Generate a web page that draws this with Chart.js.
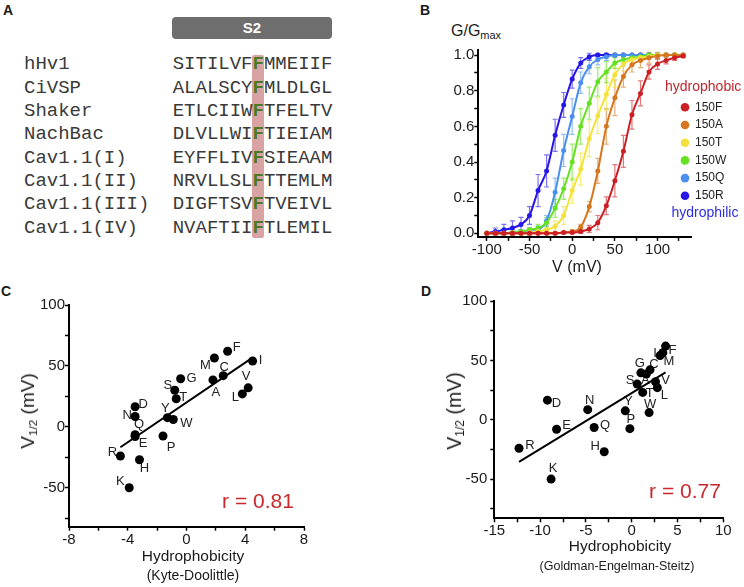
<!DOCTYPE html>
<html>
<head>
<meta charset="utf-8">
<script src="https://cdn.jsdelivr.net/npm/chart.js@4.4.1/dist/chart.umd.min.js"></script>
<style>
  body { margin: 0; width: 744px; height: 587px; position: relative; background: #fff; overflow: hidden;
         font-family: Arial, "Liberation Sans", sans-serif; color: #1a1a1a; }
  canvas { position: absolute; }
  .t { position: absolute; white-space: nowrap; }
  .mid { transform: translate(-50%, -50%); }
  .panel { font-weight: bold; font-size: 14px; }
  .seq { font-family: "Liberation Mono", "Courier New", monospace; font-size: 19px; line-height: 23.33px; color: #3a3a3a; }
  .hl { color: #4b7a20; font-weight: bold; }
  sub { font-size: 0.62em; vertical-align: -0.25em; }
</style>
</head>
<body>

<!-- panel A -->
<div class="t panel" style="left:3px;top:2px;">A</div>
<div class="t" style="left:172px;top:17px;width:160px;height:22px;background:#6e6e6e;border-radius:4px;color:#fff;font-weight:bold;font-size:15px;line-height:22px;text-align:center;">S2</div>
<div class="t" style="left:252px;top:55px;width:12px;height:183px;background:#d9a3a3;border-radius:2px;"></div>
<div id="alignment"></div>

<!-- panel B -->
<div class="t panel" style="left:420px;top:2px;">B</div>
<div class="t" style="left:451px;top:22px;font-size:16px;">G/G<sub style="font-size:11px;">max</sub></div>
<canvas id="chartB" width="324" height="280" style="left:420px;top:0;"></canvas>

<!-- panel C -->
<div class="t panel" style="left:1px;top:283px;">C</div>
<canvas id="chartC" width="370" height="307" style="left:0;top:280px;"></canvas>
<div class="t mid" style="left:28px;top:411px;font-size:19px;transform:translate(-50%,-50%) rotate(-90deg);">V<sub>1/2</sub> (mV)</div>
<div class="t mid" style="left:193px;top:556px;font-size:15.5px;">Hydrophobicity</div>
<div class="t mid" style="left:193px;top:575px;font-size:14px;">(Kyte-Doolittle)</div>
<div class="t mid" style="left:258px;top:501px;font-size:21px;color:#c8282e;">r = 0.81</div>

<!-- panel D -->
<div class="t panel" style="left:421px;top:283px;">D</div>
<canvas id="chartD" width="374" height="307" style="left:370px;top:280px;"></canvas>
<div class="t mid" style="left:455px;top:411px;font-size:19.5px;transform:translate(-50%,-50%) rotate(-90deg);">V<sub>1/2</sub> (mV)</div>
<div class="t mid" style="left:620px;top:546px;font-size:15.5px;">Hydrophobicity</div>
<div class="t mid" style="left:617px;top:566px;font-size:12.5px;">(Goldman-Engelman-Steitz)</div>
<div class="t mid" style="left:685px;top:491px;font-size:21px;color:#c8282e;">r = 0.77</div>

<script>
// ---- panel A: alignment ----
const seqNames = ['hHv1', 'CiVSP', 'Shaker', 'NachBac', 'Cav1.1(I)', 'Cav1.1(II)', 'Cav1.1(III)', 'Cav1.1(IV)'];
const seqs = ['SITILVFFMMEIIF', 'ALALSCYFMLDLGL', 'ETLCIIWFTFELTV', 'DLVLLWIFTIEIAM',
              'EYFFLIVFSIEAAM', 'NRVLLSLFTTEMLM', 'DIGFTSVFTVEIVL', 'NVAFTIIFTLEMIL'];
const hlPos = 7;

// ---- panel B: G/Gmax vs V ----
const voltages = [-100, -90, -80, -70, -60, -50, -40, -30, -20, -10, 0, 10, 20, 30, 40, 50, 60, 70, 80, 90, 100, 110, 120, 130];
const g150F = [0, 0, 0, 0, 0, 0, 0, 0, 0, 0.005, 0.005, 0.01, 0.025, 0.06, 0.155, 0.295, 0.46, 0.665, 0.785, 0.905, 0.95, 0.97, 0.985, 0.995];
const e150F = [0, 0, 0, 0, 0, 0, 0, 0, 0, 0, 0.005, 0.01, 0.02, 0.04, 0.05, 0.09, 0.09, 0.08, 0.07, 0.04, 0.03, 0.02, 0.015, 0.01];
const g150A = [0, 0, 0, 0, 0, 0, 0, 0, 0, 0.005, 0.01, 0.035, 0.15, 0.35, 0.6, 0.76, 0.88, 0.945, 0.97, 0.985, 0.995, 1, 1, 1];
const e150A = [0, 0, 0, 0, 0, 0, 0, 0, 0, 0.005, 0.01, 0.015, 0.03, 0.07, 0.1, 0.1, 0.06, 0.04, 0.04, 0.03, 0.02, 0.01, 0.01, 0.005];
const g150T = [0, 0, 0, 0, 0, 0.005, 0.01, 0.02, 0.04, 0.1, 0.24, 0.36, 0.53, 0.66, 0.78, 0.89, 0.95, 0.975, 0.985, 0.99, 1, 1, 1, 1];
const e150T = [0, 0, 0, 0, 0, 0.005, 0.01, 0.02, 0.03, 0.05, 0.07, 0.09, 0.1, 0.1, 0.09, 0.07, 0.04, 0.03, 0.02, 0.01, 0.01, 0, 0, 0];
const g150W = [0, 0, 0, 0.005, 0.01, 0.02, 0.03, 0.06, 0.14, 0.25, 0.4, 0.6, 0.73, 0.85, 0.905, 0.955, 0.975, 0.985, 0.99, 1, 1, 1, 1, 1];
const e150W = [0, 0, 0, 0.005, 0.01, 0.01, 0.02, 0.03, 0.05, 0.06, 0.1, 0.1, 0.09, 0.08, 0.06, 0.03, 0.02, 0.01, 0.01, 0.01, 0, 0, 0, 0];
const g150Q = [0, 0, 0, 0.005, 0.01, 0.01, 0.02, 0.07, 0.23, 0.465, 0.655, 0.845, 0.935, 0.975, 0.99, 1, 1, 1, 1, 1, 1, 1, 1, 1];
const e150Q = [0, 0, 0, 0.005, 0.01, 0.02, 0.02, 0.03, 0.08, 0.09, 0.1, 0.06, 0.04, 0.03, 0.02, 0.01, 0, 0, 0, 0, 0, 0, 0, 0];
const g150R = [0, 0.01, 0.02, 0.03, 0.05, 0.1, 0.24, 0.35, 0.55, 0.72, 0.865, 0.955, 0.99, 1, 1, 1, 1, 1, 1, 1, 1, 1, 1, 1];
const e150R = [0, 0.02, 0.03, 0.04, 0.04, 0.05, 0.09, 0.09, 0.09, 0.07, 0.05, 0.03, 0.02, 0.01, 0.01, 0, 0, 0, 0, 0, 0, 0, 0, 0];
const mutantLabels = ['150F', '150A', '150T', '150W', '150Q', '150R'];
const xMajorB = [-100, -50, 0, 50, 100];
const xMinorB = [-75, -25, 25, 75, 125];
const yMajorB = [0, 0.2, 0.4, 0.6, 0.8, 1.0];
const yMinorB = [0.1, 0.3, 0.5, 0.7, 0.9];

// ---- panels C, D: V1/2 vs hydrophobicity ----
const residues = ['I', 'V', 'L', 'F', 'C', 'M', 'A', 'G', 'T', 'S', 'W', 'Y', 'P', 'H', 'E', 'Q', 'D', 'N', 'K', 'R'];
const vHalf = [54, 32, 27, 62, 42, 56.5, 38.5, 39.5, 23, 30, 6, 7.5, -7.5, -27, -8, -6.5, 16.5, 8.5, -50, -24];
const kyteDoolittle = [4.5, 4.2, 3.8, 2.8, 2.5, 1.9, 1.8, -0.4, -0.7, -0.8, -0.9, -1.3, -1.6, -3.2, -3.5, -3.5, -3.5, -3.5, -3.9, -4.5];
const ges = [3.1, 2.6, 2.8, 3.7, 2.0, 3.4, 1.6, 1.0, 1.2, 0.6, 1.9, -0.7, -0.2, -3.0, -8.2, -4.1, -9.2, -4.8, -8.8, -12.3];
const yMajorCD = [100, 50, 0, -50];
const yMinorCD = [75, 25, -25, -75];
const xMajorC = [-8, -4, 0, 4, 8];
const xMinorC = [-6, -2, 2, 6];
const xMajorD = [-15, -10, -5, 0, 5, 10];
const xMinorD = [-12.5, -7.5, -2.5, 2.5, 7.5];

// label placement (pixels from the dot)
const labelOffC = { I: [8, -1], V: [-2, -11], L: [-7, 3], F: [9, -4], C: [1, -8], M: [-9, 7], A: [3, 13], G: [11, 0],
  T: [7, -1], S: [-7, -5], W: [13, 4], Y: [-2, -9], P: [8, 11], H: [5, 9], E: [8, 7], Q: [4, -10], D: [8, -2],
  N: [-8, -1], K: [-9, -6], R: [-8, -4] };
const labelOffD = { I: [-5, -2], V: [10, -1], L: [7, 8], F: [7, 4], C: [4, -5], M: [6, 9], A: [-1, 6], G: [-1, -9],
  T: [7, 1], S: [-7, -4], W: [1, -8], Y: [3, -9], P: [1, -9], H: [-9, -5], E: [10, -4], Q: [11, -2], D: [9, 3],
  N: [2, -9], K: [2, -11], R: [11, -3] };

// ---------- build panel A ----------
const aln = document.getElementById('alignment');
seqNames.forEach((n, i) => {
  const top = 53.3 + i * 23.33;
  const nd = document.createElement('div');
  nd.className = 't seq';
  nd.style.left = '24px'; nd.style.top = top + 'px';
  nd.textContent = n;
  aln.appendChild(nd);
  const sd = document.createElement('div');
  sd.className = 't seq';
  sd.style.left = '172.7px'; sd.style.top = top + 'px';
  const s = seqs[i];
  sd.innerHTML = s.slice(0, hlPos) + '<span class="hl">' + s[hlPos] + '</span>' + s.slice(hlPos + 1);
  aln.appendChild(sd);
});

// ---------- helpers ----------
const tickFont = { family: 'Arial, "Liberation Sans", sans-serif', size: 15 };
const setTicks = (major, minor) => (ax) => {
  ax.ticks = major.concat(minor).sort((a, b) => a - b).map(v => ({ value: v }));
};
const axisStyle = (major, minor, fmt) => ({
  afterBuildTicks: setTicks(major, minor),
  border: { display: true, color: '#000', width: 2 },
  grid: { drawOnChartArea: false, color: '#000', tickLength: 4, tickWidth: 1.5 },
  ticks: { autoSkip: false, maxRotation: 0, padding: 0, color: '#1a1a1a', font: tickFont,
           callback: (v) => major.includes(v) ? fmt(v) : '' }
});

// ---------- panel B ----------
const gSeries = [g150F, g150A, g150T, g150W, g150Q, g150R];
const eSeries = [e150F, e150A, e150T, e150W, e150Q, e150R];
const lineColors = ['#cc1f24', '#d6761f', '#f4e23c', '#66e022', '#4a8ff0', '#2616e8'];
const errColors = ['rgba(204,31,36,0.6)', 'rgba(214,118,31,0.6)', 'rgba(244,226,60,0.7)',
                   'rgba(102,224,34,0.65)', 'rgba(74,143,240,0.6)', 'rgba(38,22,232,0.6)'];

const errorBars = {
  id: 'errorBars',
  beforeDatasetsDraw(chart) {
    const { ctx, scales: { x, y } } = chart;
    chart.data.datasets.forEach((ds) => {
      if (!ds.errors) return;
      ctx.save();
      ctx.strokeStyle = ds.errColor;
      ctx.lineWidth = 1.2;
      ds.data.forEach((p, i) => {
        const e = ds.errors[i];
        if (!e) return;
        const px = x.getPixelForValue(p.x);
        const t = y.getPixelForValue(p.y + e), b = y.getPixelForValue(p.y - e);
        ctx.beginPath();
        ctx.moveTo(px, t); ctx.lineTo(px, b);
        ctx.moveTo(px - 2.5, t); ctx.lineTo(px + 2.5, t);
        ctx.moveTo(px - 2.5, b); ctx.lineTo(px + 2.5, b);
        ctx.stroke();
      });
      ctx.restore();
    });
  }
};

const legendB = {
  id: 'legendB',
  afterDraw(chart) {
    const ctx = chart.ctx;
    ctx.save();
    ctx.textBaseline = 'middle';
    ctx.textAlign = 'left';
    ctx.font = '14px Arial, "Liberation Sans", sans-serif';
    ctx.fillStyle = '#c1272d';
    ctx.fillText('hydrophobic', 245, 87);
    ctx.font = '12px Arial, "Liberation Sans", sans-serif';
    chart.data.datasets.forEach((ds, i) => {
      const yy = 107.3 + i * 17.7;
      ctx.fillStyle = ds.borderColor;
      ctx.beginPath(); ctx.arc(265, yy, 4.3, 0, Math.PI * 2); ctx.fill();
      ctx.fillStyle = '#222';
      ctx.fillText(ds.label, 275, yy);
    });
    ctx.font = '14px Arial, "Liberation Sans", sans-serif';
    ctx.fillStyle = '#2d2de0';
    ctx.fillText('hydrophilic', 251.5, 213.5);
    ctx.restore();
  }
};

new Chart(document.getElementById('chartB'), {
  type: 'line',
  data: {
    datasets: mutantLabels.map((lab, k) => ({
      label: lab,
      data: voltages.map((v, i) => ({ x: v, y: gSeries[k][i] })),
      errors: eSeries[k],
      errColor: errColors[k],
      borderColor: lineColors[k],
      backgroundColor: lineColors[k],
      borderWidth: 2,
      pointRadius: 2.5,
      pointBorderWidth: 0,
      cubicInterpolationMode: 'monotone'
    }))
  },
  options: {
    responsive: false,
    animation: false,
    clip: false,
    layout: { autoPadding: false, padding: { left: 10, right: 52.3, top: 49.7, bottom: 0 } },
    plugins: { legend: { display: false }, tooltip: { enabled: false } },
    scales: {
      x: Object.assign({ type: 'linear', min: -110, max: 140,
                         afterFit: (ax) => { ax.height = 43.1; } }, axisStyle(xMajorB, xMinorB, v => String(v))),
      y: Object.assign({ type: 'linear', min: -0.02, max: 1.03,
                         afterFit: (ax) => { ax.width = 48.3; } }, axisStyle(yMajorB, yMinorB, v => v.toFixed(1)))
    }
  },
  plugins: [errorBars, legendB]
});
// x-axis title for B
{
  const d = document.createElement('div');
  d.className = 't mid';
  d.style.left = '577px'; d.style.top = '267px'; d.style.fontSize = '16px';
  d.textContent = 'V (mV)';
  document.body.appendChild(d);
}

// ---------- panels C and D ----------
const fitLine = (xs, ys) => {
  const n = xs.length;
  const mx = xs.reduce((a, b) => a + b, 0) / n;
  const my = ys.reduce((a, b) => a + b, 0) / n;
  let sxy = 0, sxx = 0;
  xs.forEach((x, i) => { sxy += (x - mx) * (ys[i] - my); sxx += (x - mx) * (x - mx); });
  const b = sxy / sxx, a = my - b * mx;
  const lo = Math.min(...xs), hi = Math.max(...xs);
  return [{ x: lo, y: a + b * lo }, { x: hi, y: a + b * hi }];
};

const pointLabels = (offsets) => ({
  id: 'pointLabels',
  beforeDatasetsDraw(chart) {
    const ctx = chart.ctx;
    const meta = chart.getDatasetMeta(1);
    ctx.save();
    ctx.font = '13px Arial, "Liberation Sans", sans-serif';
    ctx.fillStyle = '#222';
    ctx.textAlign = 'center';
    ctx.textBaseline = 'middle';
    meta.data.forEach((el, i) => {
      const r = residues[i];
      const o = offsets[r];
      ctx.fillText(r, el.x + o[0], el.y + o[1]);
    });
    ctx.restore();
  }
});

const makeScatter = (id, xs, xMin, xMax, xMajor, xMinor, yMin, pad, yW, xH, yPad, offsets) => {
  const yAxis = axisStyle(yMajorCD, yMinorCD, v => String(v));
  yAxis.ticks.padding = yPad;
  new Chart(document.getElementById(id), {
    type: 'scatter',
    data: {
      datasets: [
        { type: 'line', data: fitLine(xs, vHalf), borderColor: '#000', borderWidth: 2, pointRadius: 0 },
        { data: xs.map((x, i) => ({ x, y: vHalf[i] })), backgroundColor: '#000', borderWidth: 0, pointRadius: 4.5 }
      ]
    },
    options: {
      responsive: false,
      animation: false,
      clip: false,
      layout: { autoPadding: false, padding: pad },
      plugins: { legend: { display: false }, tooltip: { enabled: false } },
      scales: {
        x: Object.assign({ type: 'linear', min: xMin, max: xMax,
                           afterFit: (ax) => { ax.height = xH; } }, axisStyle(xMajor, xMinor, v => String(v))),
        y: Object.assign({ type: 'linear', min: yMin, max: 100,
                           afterFit: (ax) => { ax.width = yW; } }, yAxis)
      }
    },
    plugins: [pointLabels(offsets)]
  });
};

makeScatter('chartC', kyteDoolittle, -8, 8, xMajorC, xMinorC, -82,
            { left: 20, right: 66, top: 25, bottom: 0 }, 49, 60.3, 0, labelOffC);
makeScatter('chartD', ges, -15, 10, xMajorD, xMinorD, -83,
            { left: 70, right: 20.7, top: 21, bottom: 0 }, 54.3, 68.7, 3, labelOffD);
</script>
</body>
</html>
